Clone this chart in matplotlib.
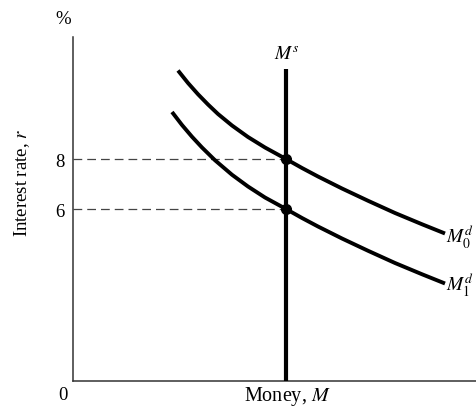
import matplotlib
matplotlib.use("Agg")
import matplotlib.pyplot as plt

plt.rcParams['font.family'] = ['Liberation Serif', 'DejaVu Serif']
plt.rcParams['mathtext.fontset'] = 'stix'

# Money demand curves (money quantity, interest rate %)
m0_money = [105, 115, 125, 135, 145, 159, 175, 192, 213, 229, 245, 269, 295, 322, 349, 372]
m0_rate = [11.54, 11.04, 10.59, 10.18, 9.80, 9.34, 8.88, 8.46, 8.0, 7.64, 7.30, 6.82, 6.33, 5.84, 5.39, 5.02]
m1_money = [99, 109, 119, 129, 142, 159, 175, 192, 213, 229, 245, 269, 295, 322, 349, 372]
m1_rate = [9.88, 9.36, 8.89, 8.46, 7.95, 7.37, 6.90, 6.46, 6.0, 5.64, 5.30, 4.82, 4.33, 3.84, 3.39, 3.02]

# Money supply (vertical)
ms_money = 213
ms_top = 11.6

# Equilibria
eq_rates = [8, 6]
eq_labels = ['8', '6']

x_min, x_max = 0, 403
y_min, y_max = -0.88, 12.88

fig = plt.figure(figsize=(4.76, 4.10), dpi=100)
ax = fig.add_axes([73/476, 1-382/410, 1-73/476, (382-38)/410])
ax.set_xlim(x_min, x_max)
ax.set_ylim(y_min, y_max)

for s in ['top', 'right']:
    ax.spines[s].set_visible(False)
for s in ['left', 'bottom']:
    ax.spines[s].set_color('#333333')
    ax.spines[s].set_linewidth(1.1)

ax.plot(m0_money, m0_rate, color='black', lw=2.8, solid_capstyle='butt', solid_joinstyle='round', zorder=3)
ax.plot(m1_money, m1_rate, color='black', lw=2.8, solid_capstyle='butt', solid_joinstyle='round', zorder=3)
ax.plot([ms_money, ms_money], [y_min, ms_top], color='black', lw=3.0, solid_capstyle='butt', zorder=3)

for r in eq_rates:
    ax.plot([x_min, ms_money], [r, r], color='#444444', lw=0.9, ls=(0, (7, 4)), zorder=2)
    ax.plot([ms_money], [r], 'o', color='black', ms=7, zorder=4)

ax.set_xticks([])
ax.set_yticks(eq_rates)
ax.set_yticklabels(eq_labels, fontsize=13.5)
ax.tick_params(axis='y', length=0, pad=6)

fs = 13.5
fig.text(63/476, 1-396/410, '0', ha='center', va='center', fontsize=fs)
fig.text(63/476, 1-20/410, '%', ha='center', va='center', fontsize=fs)
fig.text(22/476, 1-183/410, 'Interest rate, $r$', ha='center', va='center', rotation=90, fontsize=fs)
fig.text(287/476, 1-397/410, 'Money, $M$', ha='center', va='center', fontsize=14.5)
fig.text(287/476, 1-55/410, '$M^s$', ha='center', va='center', fontsize=14)
fig.text(446/476, 1-237/410, '$M_0^d$', ha='left', va='center', fontsize=14)
fig.text(446/476, 1-285/410, '$M_1^d$', ha='left', va='center', fontsize=14)

fig.savefig('out.png', dpi=100)
